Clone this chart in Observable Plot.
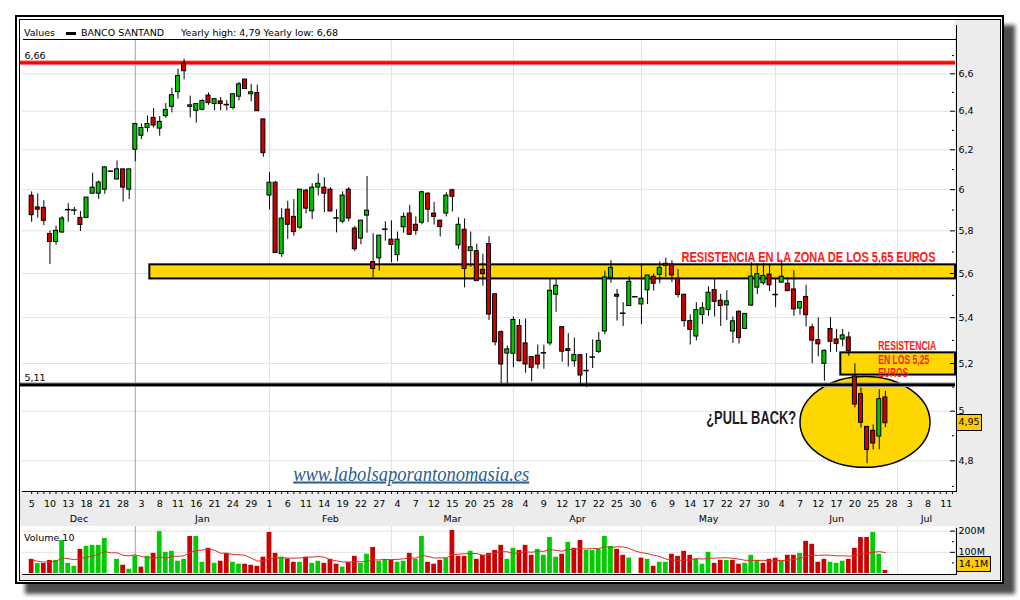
<!DOCTYPE html>
<html>
<head>
<meta charset="utf-8">
<script src="https://cdn.jsdelivr.net/npm/d3@7"></script>
<script src="https://cdn.jsdelivr.net/npm/@observablehq/plot@0.6"></script>
<style>
  body { margin: 0; background: #fff; }
  #root { position: relative; width: 1020px; height: 600px; overflow: hidden;
          font-family: "DejaVu Sans", sans-serif; font-size: 9.5px; color: #000; }
  .abs { position: absolute; }
  .lbl { position: absolute; white-space: nowrap; line-height: 11px; }
  .valbox { position: absolute; box-sizing: border-box; border: 1px solid #000; background: #ffcc00;
            text-align: center; line-height: 14px; font-size: 9.5px; }
</style>
</head>
<body>
<div id="root">
  <div class="abs" style="left:25px;top:25px;width:990px;height:569px;background:#4c4c4c;filter:blur(2px);"></div>
  <div class="abs" style="left:15px;top:15px;width:989px;height:569px;box-sizing:border-box;border:2px solid #000;background:#fff;"></div>
  <div class="abs" style="left:19px;top:19px;width:982px;height:562px;box-sizing:border-box;border:1px solid #000;background:#ececec;"></div>
  <div class="abs" style="left:20px;top:20px;width:935px;height:471px;background:#fff;"></div>
  <div class="abs" style="left:20px;top:526px;width:935px;height:49px;background:#fff;"></div>

  <div class="lbl" style="left:24px;top:27px;">Values</div>
  <div class="abs" style="left:66px;top:32px;width:10px;height:3px;background:#000;"></div>
  <div class="lbl" style="left:81px;top:27px;">BANCO SANTAND</div>
  <div class="lbl" style="left:181px;top:27px;">Yearly high: 4,79 Yearly low: 6,68</div>
  <div class="abs" style="left:23px;top:39px;width:933px;height:1px;background:#000;"></div>

  <div id="price" class="abs" style="left:20px;top:40px;"></div>
  <div id="volume" class="abs" style="left:20px;top:526px;"></div>

  <div class="abs" style="left:956px;top:25px;width:1px;height:467px;background:#000;"></div>
  <div class="abs" style="left:22px;top:491px;width:935px;height:1px;background:#000;"></div>
  <div class="abs" style="left:956px;top:528px;width:1px;height:47px;background:#000;"></div>
  <div class="abs" style="left:22px;top:574px;width:935px;height:1px;background:#000;"></div>
  <div class="lbl" style="left:24px;top:532px;">Volume 10</div>
</div>
<script>
// ---------- DATA ----------
const decDays = [5,6,7,10,11,12,13,14,17,18,19,20,21,24,27,28,31];
const janDays = [2,3,4,7,8,9,10,11,14,15,16,17,18,21,22,23,24,25,28,29,30,31];
const febDays = [1,4,5,6,7,8,11,12,13,14,15,18,19,20,21,22,25,26,27,28];
const marDays = [1,4,5,6,7,8,11,12,13,14,15,18,19,20,21,22,25,26,27,28];
const aprDays = [2,3,4,5,8,9,10,11,12,15,16,17,18,19,22,23,24,25,26,29,30];
const mayDays = [2,3,6,7,8,9,10,13,14,15,16,17,20,21,22,23,24,27,28,29,30,31];
const junDays = [3,4,5,6,7,10,11,12,13,14,17,18,19,20,21,24,25,26,27,28];
const julDays = [1,2,3,4,5,8,9,10,11,12];
const monthNames = ["Dec","Jan","Feb","Mar","Apr","May","Jun","Jul"];

const priceTicks = [4.8,5,5.2,5.4,5.6,5.8,6,6.2,6.4,6.6];
const priceMinorTicks = [4.7,4.9,5.1,5.3,5.5,5.7,5.9,6.1,6.3,6.5,6.7];
const volumeTicks = [100,200];
const volumeMinorTicks = [50,150];

const open = [5.970,5.913,5.911,5.785,5.747,5.792,5.902,5.900,5.862,5.862,
 5.980,5.980,6.000,6.092,6.050,6.101,6.000,6.200,6.272,6.312,
 6.365,6.309,6.374,6.423,6.501,6.655,6.423,6.402,6.407,6.483,
 6.438,6.452,6.435,6.417,6.477,6.569,6.490,6.496,6.357,5.971,
 6.034,5.690,5.902,5.867,5.815,5.995,5.894,6.010,6.010,6.000,
 5.862,5.844,6.000,5.811,5.763,5.873,5.653,5.670,5.808,5.758,
 5.685,5.817,5.883,5.829,5.839,5.980,5.883,5.849,5.883,5.997,
 5.731,5.805,5.704,5.704,5.617,5.737,5.505,5.336,5.243,5.242,
 5.363,5.287,5.228,5.234,5.246,5.287,5.503,5.358,5.262,5.210,
 5.236,5.170,5.228,5.250,5.339,5.580,5.503,5.420,5.452,5.494,
 5.459,5.523,5.585,5.594,5.645,5.641,5.576,5.503,5.385,5.317,
 5.412,5.434,5.524,5.476,5.455,5.339,5.426,5.350,5.454,5.535,
 5.555,5.595,5.504,5.558,5.553,5.527,5.441,5.493,5.357,5.301,
 5.199,5.350,5.304,5.304,5.313,5.145,5.071,4.936,4.920,4.897,
 5.057];
const high = [5.989,5.979,5.946,5.800,5.823,5.869,5.931,5.913,5.893,5.961,
 6.082,6.044,6.114,6.092,6.143,6.101,6.101,6.333,6.333,6.375,
 6.414,6.372,6.440,6.522,6.626,6.680,6.480,6.438,6.461,6.497,
 6.464,6.473,6.456,6.490,6.553,6.569,6.543,6.539,6.357,6.086,
 6.041,5.907,5.943,5.951,6.000,6.002,6.029,6.078,6.059,6.010,
 5.902,5.989,6.010,5.821,5.849,6.065,5.786,5.777,5.843,5.848,
 5.794,5.886,5.923,5.867,5.992,5.985,5.937,5.849,5.985,6.002,
 5.862,5.857,5.794,5.737,5.690,5.772,5.505,5.342,5.276,5.404,
 5.391,5.394,5.228,5.280,5.280,5.573,5.573,5.358,5.330,5.310,
 5.236,5.243,5.302,5.335,5.611,5.659,5.527,5.467,5.585,5.494,
 5.641,5.591,5.598,5.653,5.671,5.659,5.618,5.503,5.413,5.467,
 5.467,5.539,5.573,5.505,5.521,5.403,5.432,5.417,5.650,5.643,
 5.647,5.641,5.574,5.661,5.581,5.612,5.470,5.546,5.371,5.399,
 5.258,5.400,5.348,5.348,5.336,5.199,5.096,4.936,4.944,5.089,
 5.082];
const low = [5.841,5.861,5.825,5.641,5.732,5.788,5.841,5.874,5.797,5.862,
 5.980,5.952,5.977,6.092,6.050,5.939,5.951,6.139,6.253,6.291,
 6.312,6.270,6.363,6.391,6.464,6.567,6.365,6.338,6.402,6.431,
 6.402,6.402,6.402,6.407,6.454,6.518,6.450,6.400,6.162,5.901,
 5.695,5.675,5.759,5.774,5.805,5.881,5.854,5.969,5.888,5.893,
 5.790,5.834,5.843,5.702,5.734,5.789,5.580,5.611,5.751,5.649,
 5.655,5.789,5.781,5.779,5.829,5.839,5.828,5.771,5.867,5.891,
 5.713,5.534,5.629,5.565,5.542,5.388,5.276,5.115,5.115,5.183,
 5.207,5.159,5.122,5.176,5.176,5.276,5.424,5.206,5.185,5.185,
 5.109,5.098,5.179,5.243,5.325,5.555,5.385,5.361,5.452,5.494,
 5.369,5.459,5.520,5.553,5.580,5.558,5.489,5.358,5.280,5.298,
 5.369,5.406,5.403,5.361,5.387,5.287,5.284,5.347,5.450,5.504,
 5.546,5.518,5.445,5.555,5.519,5.406,5.411,5.359,5.200,5.229,
 5.125,5.248,5.248,5.272,5.231,5.014,4.931,4.789,4.843,4.844,
 4.933];
const close = [5.875,5.902,5.848,5.747,5.800,5.859,5.902,5.900,5.828,5.961,
 6.010,6.035,6.111,6.092,6.101,6.010,6.101,6.333,6.312,6.333,
 6.325,6.344,6.407,6.485,6.588,6.614,6.431,6.438,6.454,6.443,
 6.464,6.438,6.435,6.490,6.543,6.518,6.501,6.400,6.183,6.034,
 5.695,5.859,5.829,5.794,6.000,5.907,6.010,6.029,5.980,5.893,
 5.862,5.971,5.859,5.713,5.849,5.897,5.621,5.777,5.808,5.733,
 5.758,5.867,5.781,5.800,5.987,5.902,5.867,5.818,5.971,5.965,
 5.829,5.621,5.722,5.565,5.597,5.414,5.292,5.196,5.261,5.390,
 5.210,5.196,5.182,5.196,5.246,5.521,5.544,5.251,5.254,5.237,
 5.149,5.170,5.228,5.298,5.582,5.626,5.494,5.420,5.562,5.494,
 5.485,5.591,5.553,5.626,5.636,5.591,5.502,5.385,5.346,5.434,
 5.442,5.512,5.471,5.452,5.473,5.384,5.310,5.417,5.586,5.597,
 5.589,5.546,5.504,5.585,5.519,5.437,5.470,5.411,5.299,5.283,
 5.255,5.294,5.285,5.322,5.253,5.028,4.953,4.843,4.869,5.050,
 4.951];
// volume in millions of shares
const volume = [67,47,47,62,62,156,48,34,114,128,
 133,133,166,0,67,39,20,83,30,81,
 95,198,100,105,58,67,175,175,53,119,
 48,58,95,53,44,44,39,34,77,194,
 95,77,69,53,53,77,48,58,48,67,
 44,30,53,81,48,91,123,58,67,62,
 53,58,95,67,175,53,44,62,72,203,
 81,81,105,67,86,95,109,133,67,119,
 109,133,86,114,86,170,77,91,147,119,
 156,109,109,114,175,128,114,86,73,0,
 73,67,34,53,53,91,81,105,86,67,
 44,100,48,62,62,62,44,48,86,62,
 48,67,72,58,86,86,95,152,138,53,
 67,53,48,58,67,119,170,170,194,91,
 14.1];
// g = up day, r = down day, - = no volume
const volumeColor = "rgrrggggrg" + "ggg-grggrg" + "rgggggrggr" + "grrggrrrrr" + "rgrrgrggrr" +
                    "rgrrggrggr" + "ggrggrrrgr" + "rrgrrrrrgg" + "rrrggggrgr" + "rgggggrrg-" +
                    "rgrggrrrrg" + "ggrrgrrggg" + "rrrgrrgrrr" + "rgggrrrrgg" + "r";

const levelValues = [6.66, 5.11];
const levelLabels = ["6,66", "5,11"];

// annotations (date index, price)
const zoneStart = [19.38, 132.69];
const zoneLow = [5.575, 5.151];
const zoneHigh = [5.640, 5.246];
const ellipseNote = {x: 136.74, halfWidth: 10.66, low: 4.7724, high: 5.143};
const noteTexts = ["RESISTENCIA EN LA ZONA DE LOS 5,65 EUROS", "RESISTENCIA", "EN LOS 5,25", "EUROS", "¿PULL BACK?", "www.labolsaporantonomasia.es"];
const noteX = [106.57, 138.83, 138.83, 138.83, 110.62, 42.89];
const noteY = [5.6749, 5.2744, 5.2166, 5.1610, 4.9701, 4.7478];

// ---------- CHART ----------
const monthDays = [decDays, janDays, febDays, marDays, aprDays, mayDays, junDays, julDays];
const days = monthDays.flat();
const monthStart = Array.from(d3.cumsum([0, ...monthDays.slice(0, -1).map(a => a.length)]));
const xDomain = [-1.5, days.length - 0.5];
const labelIdx = d3.range(0, days.length, 3);
const allIdx = d3.range(0, days.length);
const monthMid = monthStart.map((s, k) => ((k === 0 ? xDomain[0] : s) + (k + 1 < monthStart.length ? monthStart[k + 1] : xDomain[1])) / 2);

const candles = close.map((c, i) => ({i, o: open[i], h: high[i], l: low[i], c, v: volume[i], vc: volumeColor[i]}));
const up = candles.filter(d => d.c > d.o);
const down = candles.filter(d => d.c < d.o);
const flat = candles.filter(d => d.c === d.o);
const levels = levelValues.map((v, k) => ({v, label: levelLabels[k]}));
const zones = zoneStart.map((s, k) => ({s, lo: zoneLow[k], hi: zoneHigh[k]}));
const fmtPrice = d => String(+d.toFixed(1)).replace(".", ",");

const GREEN = "#00c400", RED = "#cc0000", GOLD = "#ffd700", GRID = "#e2e2e2";
const textStyle = [
  {size: 14, weight: "bold", style: "normal", fill: "#ff1a1a", family: "Liberation Sans, Arial, sans-serif", len: 254},
  {size: 12, weight: "bold", style: "normal", fill: "#ff1a1a", family: "Liberation Sans, Arial, sans-serif", len: 58},
  {size: 12, weight: "bold", style: "normal", fill: "#ff1a1a", family: "Liberation Sans, Arial, sans-serif", len: 51},
  {size: 12, weight: "bold", style: "normal", fill: "#ff1a1a", family: "Liberation Sans, Arial, sans-serif", len: 30},
  {size: 17.5, weight: "bold", style: "normal", fill: "#1e1e1e", family: "Liberation Sans, Arial, sans-serif", len: 90},
  {size: 20, weight: "normal", style: "italic", fill: "#2c5e8e", family: "Liberation Serif, serif", len: 236}
];
const notes = noteTexts.map((t, k) => ({t, x: noteX[k], y: noteY[k], ...textStyle[k]}));

function ellipseMark(index, scales) {
  const x = scales.x, y = scales.y;
  const el = document.createElementNS("http://www.w3.org/2000/svg", "ellipse");
  const cx = x(ellipseNote.x), rx = x(ellipseNote.x + ellipseNote.halfWidth) - cx;
  const yTop = y(ellipseNote.high), yBot = y(ellipseNote.low);
  el.setAttribute("cx", cx); el.setAttribute("cy", (yTop + yBot) / 2);
  el.setAttribute("rx", rx); el.setAttribute("ry", (yBot - yTop) / 2);
  el.setAttribute("fill", GOLD); el.setAttribute("stroke", "#000"); el.setAttribute("stroke-width", 1.5);
  return el;
}

const baseStyle = {background: "transparent", fontFamily: "DejaVu Sans, sans-serif", fontSize: "9.5px", color: "#000", overflow: "visible"};

const priceChart = Plot.plot({
  width: 980, height: 486,
  marginLeft: 2, marginRight: 45, marginTop: 0, marginBottom: 35,
  style: baseStyle,
  x: {domain: xDomain, axis: null},
  y: {type: "log", domain: [4.6804, 6.7834], axis: null},
  marks: [
    Plot.ruleY(priceTicks, {y: d => d, stroke: GRID}),
    Plot.ruleX(monthStart.slice(2), {x: d => d, stroke: GRID}),
    Plot.ruleX([monthStart[1]], {x: d => d, stroke: "#a5a5a5"}),
    ellipseMark,
    Plot.rect(zones, {x1: "s", x2: () => xDomain[1], y1: "lo", y2: "hi", fill: GOLD, stroke: "#000", strokeWidth: 2}),
    Plot.ruleY([levels[0]], {y: "v", stroke: "#ff9090", strokeWidth: 5, insetLeft: -2}),
    Plot.ruleY([levels[0]], {y: "v", stroke: "#ff0000", strokeWidth: 3, insetLeft: -2}),
    Plot.ruleY([levels[1]], {y: "v", stroke: "#8a8a8a", strokeWidth: 4.5, insetLeft: -2}),
    Plot.ruleY([levels[1]], {y: "v", stroke: "#000", strokeWidth: 2.5, insetLeft: -2}),
    Plot.text(levels, {y: "v", text: "label", frameAnchor: "left", dx: 2, dy: -6.5, textAnchor: "start", lineAnchor: "middle"}),
    Plot.ruleX(candles.filter(d => d.h > d.l), {x: "i", y1: "l", y2: "h", stroke: "#000", strokeWidth: 1}),
    Plot.rect(up, {x1: d => d.i - 0.33, x2: d => d.i + 0.33, y1: "o", y2: "c", fill: GREEN, stroke: "#000", strokeWidth: 1}),
    Plot.rect(down, {x1: d => d.i - 0.33, x2: d => d.i + 0.33, y1: "o", y2: "c", fill: RED, stroke: "#000", strokeWidth: 1}),
    Plot.ruleY(flat, {y: "c", x1: d => d.i - 0.45, x2: d => d.i + 0.45, stroke: "#000", strokeWidth: 1.5}),
    ...notes.map(n => Plot.text([n], {x: "x", y: "y", text: "t", textAnchor: "start", lineAnchor: "middle",
      fontSize: n.size, fontWeight: n.weight, fontStyle: n.style, fontFamily: n.family, fill: n.fill})),
    // right axis
    Plot.tickY(priceTicks, {y: d => d, insetLeft: 928, stroke: "#000"}),
    Plot.tickY(priceMinorTicks, {y: d => d, insetLeft: 930, insetRight: 1, stroke: "#000"}),
    Plot.text(priceTicks, {y: d => d, text: fmtPrice, frameAnchor: "right", dx: 3, textAnchor: "start", lineAnchor: "middle"}),
    // bottom axis
    Plot.tickX(allIdx, {x: d => d, insetTop: 451, insetBottom: -3, stroke: "#000"}),
    Plot.text(labelIdx, {x: d => d, text: d => String(days[d]), frameAnchor: "bottom", dy: 12, lineAnchor: "middle"}),
    Plot.text(monthNames, {x: (d, k) => monthMid[k], text: d => d, frameAnchor: "bottom", dy: 27, lineAnchor: "middle"})
  ]
});

// exact widths for the hand-written annotations
d3.select(priceChart).selectAll("text").each(function() {
  const n = notes.find(n => n.t === this.textContent);
  if (n) {
    this.setAttribute("textLength", n.len);
    this.setAttribute("lengthAdjust", "spacingAndGlyphs");
    if (n.style === "italic") this.style.textDecoration = "underline";
  }
});
document.getElementById("price").appendChild(priceChart);

const volumeChart = Plot.plot({
  width: 980, height: 48,
  marginLeft: 2, marginRight: 45, marginTop: 0, marginBottom: 1,
  style: baseStyle,
  x: {domain: xDomain, axis: null},
  y: {domain: [0, 222], axis: null},
  marks: [
    Plot.ruleY(volumeTicks, {y: d => d, stroke: GRID}),
    Plot.ruleX(monthStart.slice(2), {x: d => d, stroke: GRID}),
    Plot.ruleX([monthStart[1]], {x: d => d, stroke: "#a5a5a5"}),
    Plot.rect(candles.filter(d => d.vc === "g"), {x1: d => d.i - 0.39, x2: d => d.i + 0.39, y1: () => 0, y2: "v", fill: "#00cc00"}),
    Plot.rect(candles.filter(d => d.vc === "r"), {x1: d => d.i - 0.39, x2: d => d.i + 0.39, y1: () => 0, y2: "v", fill: RED}),
    Plot.lineY(candles, Plot.windowY({k: 10, anchor: "end"}, {x: "i", y: "v", stroke: "#d63030", strokeWidth: 1})),
    Plot.tickY(volumeTicks, {y: d => d, insetLeft: 928, stroke: "#000"}),
    Plot.tickY(volumeMinorTicks, {y: d => d, insetLeft: 930, insetRight: 1, stroke: "#000"}),
    Plot.text(volumeTicks, {y: d => d, text: d => d + "M", frameAnchor: "right", dx: 3, textAnchor: "start", lineAnchor: "middle"})
  ]
});
document.getElementById("volume").appendChild(volumeChart);

// last-value boxes positioned through the scales
const root = document.getElementById("root");
const last = candles[candles.length - 1];
const yPrice = priceChart.scale("y").apply(last.c) + 40;
const pbox = document.createElement("div");
pbox.className = "valbox";
pbox.style.cssText = `left:956px;top:${yPrice - 8.5}px;width:26px;height:17px;`;
pbox.textContent = String(last.c.toFixed(2)).replace(".", ",");
root.appendChild(pbox);
const yVol = Math.min(volumeChart.scale("y").apply(last.v) + 526, 575 - 19 + 8);
const vbox = document.createElement("div");
vbox.className = "valbox";
vbox.style.cssText = `left:956px;top:${yVol - 8}px;width:35px;height:16px;`;
vbox.textContent = String(last.v).replace(".", ",") + "M";
root.appendChild(vbox);
</script>
</body>
</html>
